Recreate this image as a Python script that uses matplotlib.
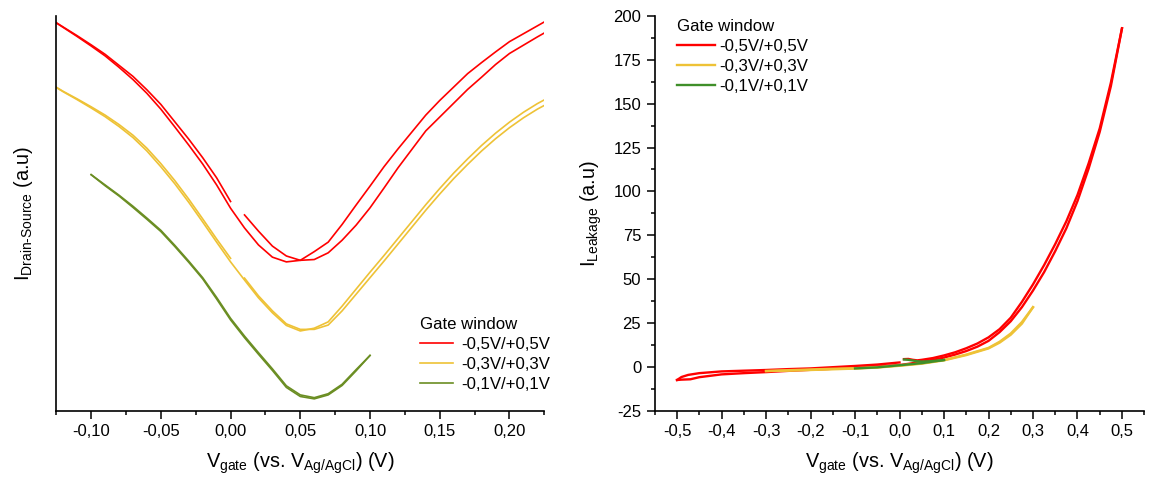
import numpy as np
import matplotlib.pyplot as plt
from matplotlib.ticker import MultipleLocator, FuncFormatter

plt.rcParams['font.family'] = ['Liberation Sans', 'DejaVu Sans']
plt.rcParams['mathtext.fontset'] = 'custom'
plt.rcParams['mathtext.rm'] = 'Liberation Sans'
plt.rcParams['mathtext.it'] = 'Liberation Sans:italic'
plt.rcParams['mathtext.bf'] = 'Liberation Sans:bold'

# ---- left panel: drain-source current (a.u.), sampled every 10 mV ----
ds_x_neg = [-0.13, -0.12, -0.11, -0.10, -0.09, -0.08, -0.07, -0.06, -0.05,
            -0.04, -0.03, -0.02, -0.01, 0.00]
ds_x_pos = [0.01, 0.02, 0.03, 0.04, 0.05, 0.06, 0.07, 0.08, 0.09, 0.10, 0.11,
            0.12, 0.13, 0.14, 0.15, 0.16, 0.17, 0.18, 0.19, 0.20, 0.21, 0.22, 0.23]
ds_x_full = ds_x_neg + ds_x_pos
ds_x_green = [-0.10, -0.09, -0.08, -0.07, -0.06, -0.05, -0.04, -0.03, -0.02, -0.01,
              0.00, 0.01, 0.02, 0.03, 0.04, 0.05, 0.06, 0.07, 0.08, 0.09, 0.10]

red_ds_a = [99.4, 97.2, 95.0, 92.7, 90.3, 87.5, 84.7, 81.3, 77.6, 73.2, 68.8, 64.1, 59.0, 53.0]
red_ds_b = [99.4, 97.1, 94.8, 92.4, 89.9, 87.0, 83.9, 80.4, 76.4, 71.9, 67.3, 62.5, 57.2, 51.3,
            46.3, 42.0, 38.9, 37.7, 38.1, 40.3, 42.7, 47.2, 52.1, 56.9, 61.8, 66.3, 70.6,
            74.9, 78.6, 82.0, 85.4, 88.2, 90.9, 93.5, 95.5, 97.5, 99.5]
red_ds_c = [49.6, 45.5, 41.7, 39.2, 38.1, 38.3, 40.0, 43.2, 47.0, 51.4, 56.4, 61.5, 66.2,
            70.9, 74.4, 77.9, 81.4, 84.5, 87.7, 90.5, 92.6, 94.7, 96.7]

yel_ds_a = [83.0, 80.9, 79.0, 77.0, 74.9, 72.5, 69.8, 66.5, 62.6, 58.3, 53.6, 48.6, 43.5, 38.6]
yel_ds_b = [83.0, 80.8, 78.8, 76.7, 74.5, 72.0, 69.2, 65.8, 61.8, 57.5, 52.8, 47.8, 42.7, 37.7,
            33.1, 28.6, 24.8, 21.6, 20.2, 20.9, 22.5, 26.5, 30.8, 35.1, 39.3, 43.6, 47.9,
            52.2, 56.3, 60.2, 63.8, 67.2, 70.3, 73.1, 75.6, 77.8, 79.7]
yel_ds_c = [33.6, 29.1, 25.3, 22.0, 20.6, 20.6, 21.7, 25.3, 29.5, 33.7, 37.9, 42.2, 46.5,
            50.8, 54.9, 58.8, 62.4, 65.8, 68.9, 71.7, 74.2, 76.4, 78.3]

grn_ds_a = [59.8, 57.0, 54.4, 51.5, 48.5, 45.4, 41.6, 37.6, 33.4, 28.3, 23.0,
            18.5, 14.3, 10.2, 5.9, 3.6, 3.0, 4.0, 6.4, 10.1, 14.0]
grn_ds_b = [59.8, 57.2, 54.6, 51.8, 48.8, 45.7, 41.9, 37.9, 33.7, 28.7, 23.4,
            18.9, 14.7, 10.6, 6.3, 4.0, 3.3, 4.3, 6.7, 10.4, 14.0]

# ---- right panel: leakage current (a.u.) ----
red_lk_x1 = [-0.5, -0.49, -0.475, -0.45, -0.4, -0.35, -0.3, -0.25, -0.2, -0.15, -0.1, -0.05, 0.0]
red_lk_y1 = [-7.5, -5.8, -4.6, -3.6, -2.6, -2.2, -1.8, -1.3, -0.9, -0.2, 0.5, 1.3, 2.5]
red_lk_x2 = [0.01, 0.02, 0.03, 0.04, 0.05, 0.075, 0.1, 0.125, 0.15, 0.175, 0.2, 0.225,
             0.25, 0.275, 0.3, 0.325, 0.35, 0.375, 0.4, 0.425, 0.45, 0.475, 0.5]
red_lk_y2 = [4.4, 4.5, 4.0, 3.7, 4.0, 5.0, 6.5, 8.3, 10.6, 13.3, 16.8, 21.5,
             28.0, 37.0, 47.0, 58.0, 70.0, 83.0, 98.0, 116.0, 136.0, 162.0, 193.0]
red_lk_x3 = [0.5, 0.475, 0.45, 0.425, 0.4, 0.375, 0.35, 0.325, 0.3, 0.275, 0.25, 0.225,
             0.2, 0.175, 0.15, 0.125, 0.1, 0.075, 0.05, 0.025, 0.0, -0.05, -0.1, -0.15,
             -0.2, -0.25, -0.3, -0.35, -0.4, -0.45, -0.47, -0.49, -0.5]
red_lk_y3 = [193, 160, 134, 113, 94.5, 79, 66, 54, 43.5, 34, 26, 19.8,
             14.8, 11.5, 9.0, 7.0, 5.3, 4.0, 2.9, 1.9, 1.0, 0.2, -0.5, -1.1,
             -1.7, -2.3, -3.0, -3.6, -4.3, -5.9, -7.1, -7.3, -7.5]

yel_lk_x = [-0.3, -0.25, -0.2, -0.15, -0.1, -0.05, 0.0, 0.05, 0.1, 0.15, 0.2, 0.225, 0.25, 0.275, 0.3]
yel_lk_y1 = [-2.4, -1.9, -1.5, -1.1, -0.8, -0.2, 0.8, 2.0, 3.9, 7.0, 10.8, 14.3, 19.0, 25.5, 34.0]
yel_lk_y2 = [-2.4, -2.2, -1.8, -1.4, -1.0, -0.4, 0.6, 1.8, 3.7, 6.7, 10.5, 13.8, 18.3, 24.6, 34.0]

grn_lk_x1 = [-0.1, -0.05, 0.0, 0.05, 0.1]
grn_lk_y1 = [-0.9, -0.3, 0.9, 2.1, 3.9]
grn_lk_x2 = [0.01, 0.02, 0.03, 0.04, 0.05, 0.07, 0.1]
grn_lk_y2 = [4.2, 4.0, 3.6, 3.2, 3.0, 3.2, 3.9]

labels = ['-0,5V/+0,5V', '-0,3V/+0,3V', '-0,1V/+0,1V']
red = '#FF0000'
yellow = '#EEC236'
green_l = '#6B8E23'
green_r = '#3F8F2A'

fig = plt.figure(figsize=(11.53, 4.79), dpi=100)
ax1 = fig.add_axes([0.0488, 0.1426, 0.4233, 0.824])
ax2 = fig.add_axes([0.5679, 0.1426, 0.4245, 0.824])

xlabel = r'V$_{\text{gate}}$ (vs. V$_{\text{Ag/AgCl}}$) (V)'
lab_fs = 14.3
tick_fs = 12
leg_fs = 12.1

# left panel
lw = 1.2
ax1.plot(ds_x_neg, red_ds_a, color=red, lw=lw, label=labels[0])
ax1.plot(ds_x_full, red_ds_b, color=red, lw=lw)
ax1.plot(ds_x_pos, red_ds_c, color=red, lw=lw)
ax1.plot(ds_x_neg, yel_ds_a, color=yellow, lw=lw, label=labels[1])
ax1.plot(ds_x_full, yel_ds_b, color=yellow, lw=lw)
ax1.plot(ds_x_pos, yel_ds_c, color=yellow, lw=lw)
ax1.plot(ds_x_green, grn_ds_a, color=green_l, lw=lw, label=labels[2])
ax1.plot(ds_x_green, grn_ds_b, color=green_l, lw=lw)

ax1.set_xlim(-0.125, 0.225)
ax1.set_ylim(0, 100)
ax1.xaxis.set_major_locator(MultipleLocator(0.05))
ax1.xaxis.set_minor_locator(MultipleLocator(0.025))
ax1.xaxis.set_major_formatter(FuncFormatter(lambda v, p: f'{v:.2f}'.replace('.', ',').replace('-0,00', '0,00')))
ax1.tick_params(axis='y', which='both', left=False, labelleft=False)
ax1.set_xlabel(xlabel, fontsize=lab_fs, labelpad=8)
ax1.set_ylabel(r'I$_{\text{Drain-Source}}$ (a.u)', fontsize=lab_fs, labelpad=15)
leg1 = ax1.legend(title='Gate window', loc='upper left', bbox_to_anchor=(0.745, 0.237),
                  frameon=False, fontsize=leg_fs, title_fontsize=leg_fs, handlelength=1.95,
                  handletextpad=0.5, labelspacing=0.3, borderpad=0, borderaxespad=0,
                  alignment='left')

# right panel
lw2 = 1.7
ax2.plot(red_lk_x1, red_lk_y1, color=red, lw=lw2, label=labels[0])
ax2.plot(red_lk_x2, red_lk_y2, color=red, lw=lw2)
ax2.plot(red_lk_x3, red_lk_y3, color=red, lw=lw2)
ax2.plot(yel_lk_x, yel_lk_y1, color=yellow, lw=lw2, label=labels[1])
ax2.plot(yel_lk_x, yel_lk_y2, color=yellow, lw=lw2)
ax2.plot(grn_lk_x1, grn_lk_y1, color=green_r, lw=lw2, label=labels[2])
ax2.plot(grn_lk_x2, grn_lk_y2, color=green_r, lw=lw2)

ax2.set_xlim(-0.55, 0.55)
ax2.set_ylim(-25, 200)
ax2.xaxis.set_major_locator(MultipleLocator(0.1))
ax2.xaxis.set_minor_locator(MultipleLocator(0.05))
ax2.yaxis.set_major_locator(MultipleLocator(25))
ax2.yaxis.set_minor_locator(MultipleLocator(12.5))
ax2.xaxis.set_major_formatter(FuncFormatter(lambda v, p: f'{v:.1f}'.replace('.', ',').replace('-0,0', '0,0')))
ax2.yaxis.set_major_formatter(FuncFormatter(lambda v, p: f'{v:.0f}'))
ax2.set_xlabel(xlabel, fontsize=lab_fs, labelpad=8)
ax2.set_ylabel(r'I$_{\text{Leakage}}$ (a.u)', fontsize=lab_fs, labelpad=7)
leg2 = ax2.legend(title='Gate window', loc='upper left', bbox_to_anchor=(0.0447, 0.993),
                  frameon=False, fontsize=leg_fs, title_fontsize=leg_fs, handlelength=2.3,
                  handletextpad=0.25, labelspacing=0.3, borderpad=0, borderaxespad=0,
                  alignment='left')

for ax in (ax1, ax2):
    for s in ('top', 'right'):
        ax.spines[s].set_visible(False)
    for s in ('left', 'bottom'):
        ax.spines[s].set_linewidth(1.2)
    ax.tick_params(which='major', direction='out', length=5.8, width=1.1,
                   labelsize=tick_fs, pad=4)
    ax.tick_params(which='minor', direction='out', length=3.2, width=1.1)

fig.savefig('out.png', dpi=100)
